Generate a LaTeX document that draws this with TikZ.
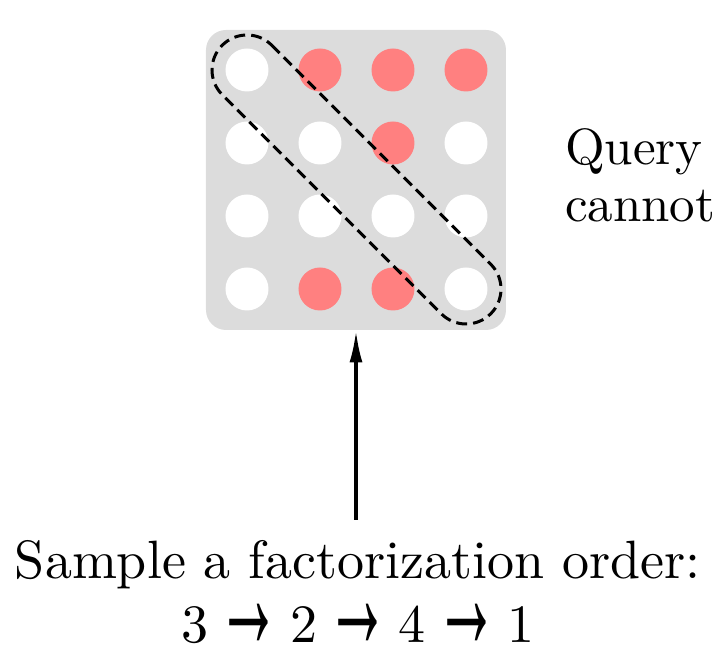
\documentclass[tikz,border=0pt]{standalone}
\usepackage{fontspec}
\setmainfont{lmroman10-regular.otf}
\newfontfamily\arrowfont{Liberation Sans}
\usetikzlibrary{arrows.meta}
\definecolor{boardgray}{RGB}{220,220,220}
\definecolor{maskred}{RGB}{255,128,128}
\tikzset{
  tok0/.style={circle,fill=white,minimum size=21.5pt,inner sep=0pt},
  tok1/.style={tok0,fill=maskred},
  span/.style={dashed,dash pattern=on 5.5pt off 3pt,line width=1.5pt},
}
\newcommand{\nxt}{\makebox[23pt]{\smash{\raisebox{-3pt}{\scalebox{1.2}[2.9]{\arrowfont\bfseries →}}}}}

\begin{document}
\begin{tikzpicture}[x=0.5pt,y=0.5pt]
\useasboundingbox (0,0) rectangle (720,658);
\node (board) [fill=boardgray,rounded corners=10pt,minimum size=150pt,inner sep=0pt] at (356,478) {};
\foreach \i/\row in {1/{0,1,1,1},2/{0,0,1,0},3/{0,0,0,0},4/{0,1,1,0}} {
  \foreach \m [count=\j] in \row {
    \node (c\i\j) [tok\m] at ({247+73*(\j-1)},{588-73*(\i-1)}) {};
  }
}
\draw[span] ([shift={(45:17.5pt)}]c11.center) -- ([shift={(45:17.5pt)}]c44.center)
  arc[start angle=45,end angle=-135,radius=17.5pt]
  -- ([shift={(225:17.5pt)}]c11.center)
  arc[start angle=225,end angle=45,radius=17.5pt] -- cycle;
\node (query) [anchor=base west,align=left,font=\fontsize{25.5}{28.5}\selectfont] at (558,436) {Query\\cannot};
\node (order) [anchor=base,align=center,font=\fontsize{27}{32}\selectfont] at (358,15) {Sample a factorization order:\\3 \nxt{} 2 \nxt{} 4 \nxt{} 1};
\draw[-{Latex[length=16pt,width=6.5pt]},line width=1.65pt,shorten <=7pt] (order.north -| board.south) -- (board.south);
\end{tikzpicture}
\end{document}
